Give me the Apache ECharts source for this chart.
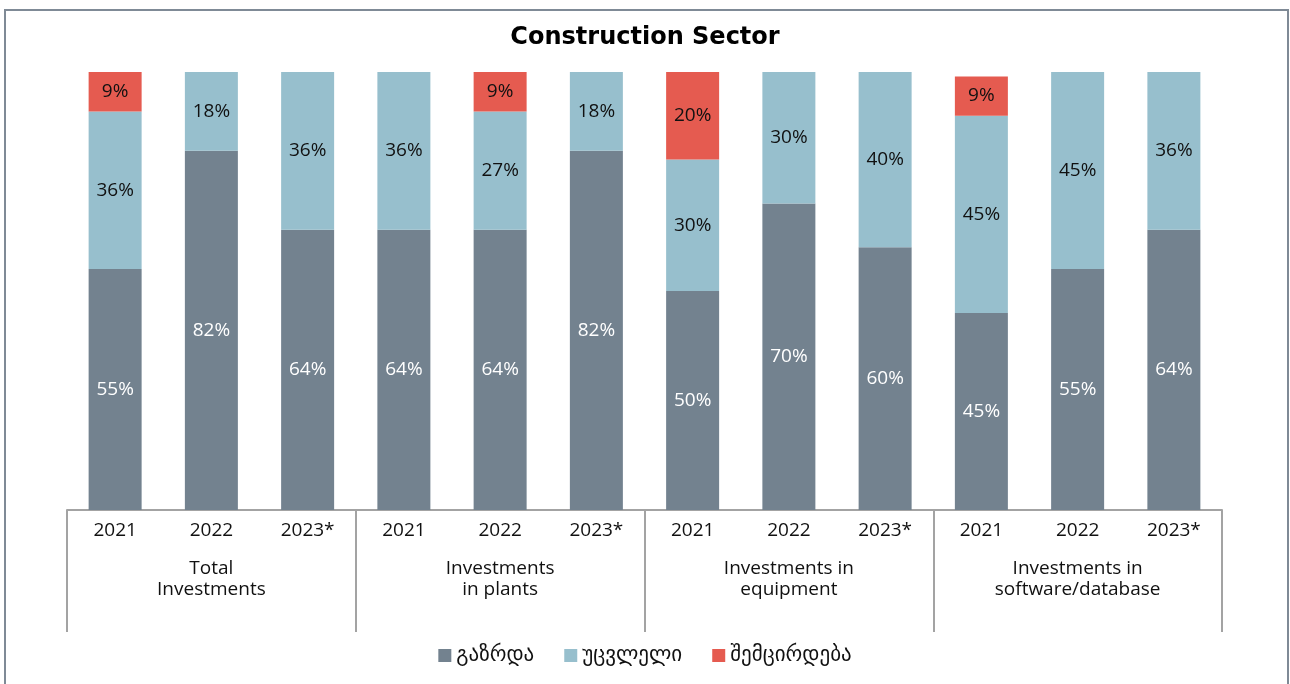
<!DOCTYPE html>
<html>
<head>
<meta charset="utf-8">
<script src="https://cdn.jsdelivr.net/npm/echarts@6/dist/echarts.min.js"></script>
<style>
  html, body { margin: 0; padding: 0; background: #fff; }
  #chart { width: 1290px; height: 684px; }
</style>
</head>
<body>
<div id="chart"></div>
<script>
// Survey shares by investment type and year (percent of firms)
const years = ['2021', '2022', '2023*', '2021', '2022', '2023*', '2021', '2022', '2023*', '2021', '2022', '2023*'];
const groups = ['Total\nInvestments', 'Investments\nin plants', 'Investments in\nequipment', 'Investments in\nsoftware/database'];
const seriesNames = ['გაზრდა', 'უცვლელი', 'შემცირდება'];
const increase  = [55, 82, 64, 64, 64, 82, 50, 70, 60, 45, 55, 64];
const unchanged = [36, 18, 36, 36, 27, 18, 30, 30, 40, 45, 45, 36];
const decrease  = [9, 0, 0, 0, 9, 0, 20, 0, 0, 9, 0, 0];

const colors = ['#73828f', '#97bfcd', '#e55b50'];
const labelColors = ['#ffffff', '#111111', '#111111'];
const textFont = '"Open Sans", "Noto Sans", sans-serif';

function makeSeries(name, values, idx) {
  return {
    name: name,
    type: 'bar',
    stack: 'total',
    barWidth: 53,
    xAxisIndex: 0,
    data: values.map(v => (v === 0 ? null : v)),
    itemStyle: { color: colors[idx] },
    label: {
      show: true,
      position: 'inside',
      formatter: p => p.value + '%',
      color: labelColors[idx],
      fontFamily: textFont,
      fontSize: 19
    },
    emphasis: { disabled: true }
  };
}

const chart = echarts.init(document.getElementById('chart'), null, { renderer: 'canvas' });
chart.setOption({
  animation: false,
  title: {
    text: 'Construction Sector',
    left: 'center',
    top: 21,
    textStyle: { fontFamily: '"DejaVu Sans", sans-serif', fontWeight: 'bold', fontSize: 24, color: '#000' }
  },
  legend: {
    data: seriesNames,
    bottom: 13,
    left: 'center',
    icon: 'rect',
    itemWidth: 13,
    itemHeight: 13,
    itemGap: 30,
    textStyle: { fontFamily: '"DejaVu Sans", sans-serif', fontSize: 21, color: '#111' }
  },
  graphic: [{
    type: 'rect',
    shape: { x: 5, y: 10, width: 1283, height: 700 },
    style: { fill: 'none', stroke: '#7f8a96', lineWidth: 2 },
    silent: true
  }],
  grid: { left: 67, right: 68, top: 72, bottom: 174 },
  xAxis: [{
    type: 'category',
    data: years,
    position: 'bottom',
    axisLine: { lineStyle: { color: '#a3a3a3', width: 2 } },
    axisTick: { show: false },
    axisLabel: { interval: 0, margin: 11, color: '#111', fontFamily: textFont, fontSize: 19 }
  }, {
    type: 'category',
    data: groups,
    position: 'bottom',
    axisLine: { show: false },
    axisTick: { show: true, length: 122, lineStyle: { color: '#a3a3a3', width: 2 } },
    axisLabel: { interval: 0, margin: 48, color: '#111', fontFamily: textFont, fontSize: 19, lineHeight: 21 }
  }],
  yAxis: {
    type: 'value',
    min: 0,
    max: 100,
    show: false,
    splitLine: { show: false }
  },
  series: [
    makeSeries(seriesNames[0], increase, 0),
    makeSeries(seriesNames[1], unchanged, 1),
    makeSeries(seriesNames[2], decrease, 2)
  ]
});
</script>
</body>
</html>
